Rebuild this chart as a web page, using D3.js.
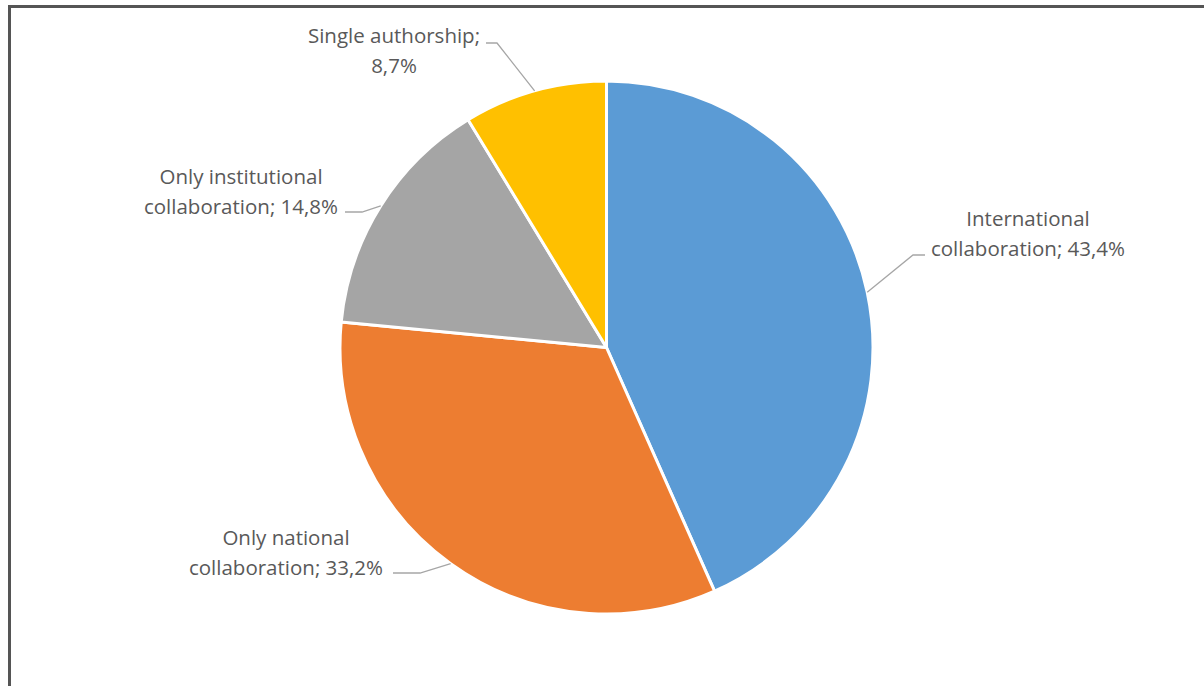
<!DOCTYPE html>
<html>
<head>
<meta charset="utf-8">
<script src="https://cdn.jsdelivr.net/npm/d3@7"></script>
<style>
  html, body { margin: 0; padding: 0; background: #fff; }
  svg { display: block; }
</style>
</head>
<body>
<div id="chart"></div>
<script>
const categories = ['International collaboration', 'Only national collaboration', 'Only institutional collaboration', 'Single authorship'];
const values = [43.4, 33.2, 14.8, 8.7];
const labelLines = [
  ['International', 'collaboration; 43,4%'],
  ['Only national', 'collaboration; 33,2%'],
  ['Only institutional', 'collaboration; 14,8%'],
  ['Single authorship;', '8,7%']
];
const colors = ['#5b9bd5', '#ed7d31', '#a5a5a5', '#ffc000'];

// label placement: centre x, baseline of first line, where the leader meets the text
const labelPos = [
  {x: 1028, y: 226, ax: 925, ay: 255, ex: 913},
  {x: 286, y: 545, ax: 393, ay: 573, ex: 420},
  {x: 241, y: 184, ax: 345, ay: 212, ex: 362},
  {x: 394, y: 43, ax: 486, ay: 43, ex: 497}
];

const W = 1204, H = 686;
const cx = 606.5, cy = 347.5, R = 266.5;

const svg = d3.select('#chart').append('svg')
  .attr('width', W).attr('height', H);

// frame (only top and left edges show in the crop)
svg.append('path')
  .attr('d', `M9.5,${H} L9.5,6.5 L${W},6.5`)
  .attr('fill', 'none').attr('stroke', '#555').attr('stroke-width', 3);

const pie = d3.pie().sort(null).value(d => d);
const arcs = pie(values);
const arc = d3.arc().innerRadius(0).outerRadius(R);
const edge = d3.arc().innerRadius(R).outerRadius(R);

const g = svg.append('g').attr('transform', `translate(${cx},${cy})`);
g.selectAll('path.slice')
  .data(arcs).enter().append('path')
  .attr('class', 'slice')
  .attr('d', arc)
  .attr('fill', (d, i) => colors[i])
  .attr('stroke', '#fff')
  .attr('stroke-width', 3)
  .attr('stroke-linejoin', 'round');

// leader lines
svg.append('g').selectAll('polyline')
  .data(arcs).enter().append('polyline')
  .attr('fill', 'none').attr('stroke', '#a6a6a6').attr('stroke-width', 1.3)
  .attr('points', (d, i) => {
    const [px, py] = edge.centroid(d);
    const p = labelPos[i];
    return [[cx + px, cy + py], [p.ex, p.ay], [p.ax, p.ay]].map(q => q.join(',')).join(' ');
  });

// labels
const lbl = svg.append('g').selectAll('text')
  .data(labelLines).enter().append('text')
  .attr('text-anchor', 'middle')
  .attr('fill', '#595959')
  .style('font-family', 'Open Sans, sans-serif')
  .style('font-size', '20.5px');
lbl.selectAll('tspan')
  .data((d, i) => d.map(t => ({t, i})))
  .enter().append('tspan')
  .attr('x', d => labelPos[d.i].x)
  .attr('y', (d, j) => labelPos[d.i].y + j * 30)
  .text(d => d.t);
</script>
</body>
</html>
